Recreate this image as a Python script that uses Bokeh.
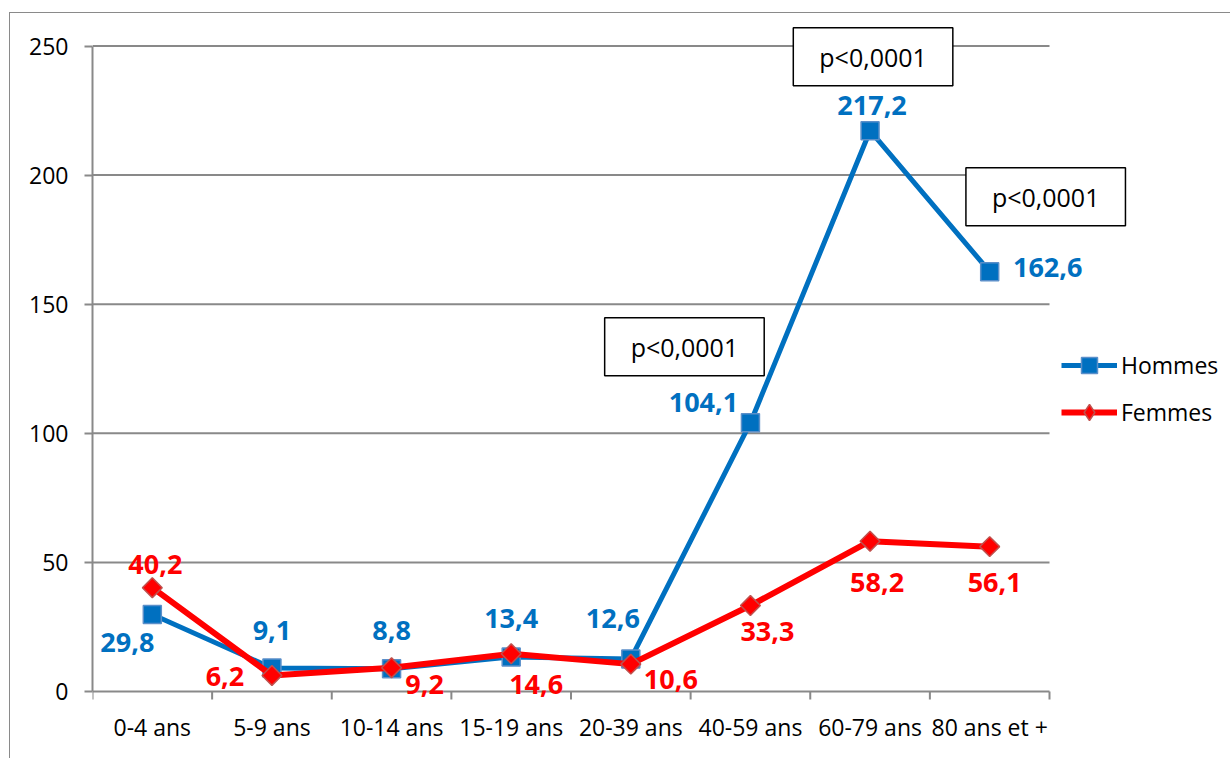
import math
from bokeh.plotting import figure
from bokeh.models import (FixedTicker, Label, Legend, LegendItem,
                          ColumnDataSource, Range1d)
from bokeh.embed import file_html
from bokeh.resources import INLINE
from bokeh.core.properties import value

# ---------------- data ----------------
categories = ["0-4 ans", "5-9 ans", "10-14 ans", "15-19 ans",
              "20-39 ans", "40-59 ans", "60-79 ans", "80 ans et +"]
hommes = [29.8, 9.1, 8.8, 13.4, 12.6, 104.1, 217.2, 162.6]
femmes = [40.2, 6.2, 9.2, 14.6, 10.6, 33.3, 58.2, 56.1]
y_ticks = [0, 50, 100, 150, 200, 250]
y_max = 250
pvalue_text = "p<0,0001"
pvalue_groups = [5, 6, 7]          # Hommes points that carry a p-value box

# ---------------- label placement (screen px) ----------------
hommes_dx = [-25, 0, 0, 0, -18, -47, 2, 58]
hommes_dy = [28, -38, -38, -38, -40, -20, -25, -4]      # +down
femmes_dx = [3, -47, 33, 25, 40, 17, 7, 5]
femmes_dy = [-23, 1, 17, 31, 15, 26, 41, 36]            # +down
pbox_dx = [-66, 3, 56]
pbox_dy = [76, 74, 75]                                  # +up

FONT = "Open Sans"
GRID = "#898989"
BLUE = "#0070C0"
RED = "#FF0000"

# layout (pixels)
FIG_W, FIG_H = 1221, 746
B_LEFT, B_RIGHT, B_TOP, B_BOTTOM = 82, 5, 3, 58
PLOT_W = 957      # width used by the 8 categories
PLOT_H = 645.5    # height used by 0..250
ZERO_PAD = 10     # frame pixels kept below the zero line (so labels are not clipped)
TICK_LEN = 8


def fmt(v):
    return f"{v:.1f}".replace(".", ",")


n = len(categories)
xs = [i + 0.5 for i in range(n)]
frame_w = FIG_W - B_LEFT - B_RIGHT
frame_h = FIG_H - B_TOP - B_BOTTOM
x_end = n * frame_w / PLOT_W
px_per_unit = PLOT_H / y_max
y_start = -ZERO_PAD / px_per_unit
y_end = (frame_h - ZERO_PAD) / px_per_unit

src_h = ColumnDataSource(dict(x=xs, y=hommes, t=[fmt(v) for v in hommes],
                              dx=hommes_dx, dy=hommes_dy))
src_f = ColumnDataSource(dict(x=xs, y=femmes, t=[fmt(v) for v in femmes],
                              dx=femmes_dx, dy=femmes_dy))

p = figure(width=FIG_W, height=FIG_H, output_backend="svg", toolbar_location=None,
           x_range=Range1d(0, x_end), y_range=Range1d(y_start, y_end),
           min_border_left=B_LEFT, min_border_top=B_TOP, min_border_right=B_RIGHT,
           min_border_bottom=B_BOTTOM)
p.outline_line_color = None
p.background_fill_color = "white"
p.border_fill_color = "white"
p.styles = {"margin-left": "9px", "margin-top": "12px",
            "border-left": "1px solid #8a8a8a", "border-top": "1px solid #8a8a8a"}

# x axis: only the category labels (line and ticks are drawn at y = 0 below)
p.xaxis.ticker = FixedTicker(ticks=xs)
p.xaxis.major_label_overrides = {x: c for x, c in zip(xs, categories)}
p.xaxis.major_tick_line_color = None
p.xaxis.major_tick_in = 0
p.xaxis.major_tick_out = 0
p.xaxis.minor_tick_line_color = None
p.xaxis.minor_tick_in = 0
p.xaxis.minor_tick_out = 0
p.xaxis.axis_line_color = None
p.xaxis.major_label_text_font = FONT
p.xaxis.major_label_text_font_size = "23px"
p.xaxis.major_label_text_color = "black"
p.xaxis.major_label_standoff = 9

p.yaxis.ticker = FixedTicker(ticks=y_ticks)
p.yaxis.bounds = (0, y_max)
p.yaxis.minor_tick_line_color = None
p.yaxis.major_tick_line_color = GRID
p.yaxis.major_tick_line_width = 2
p.yaxis.major_tick_in = 0
p.yaxis.major_tick_out = TICK_LEN
p.yaxis.axis_line_color = GRID
p.yaxis.axis_line_width = 2
p.yaxis.major_label_text_font = FONT
p.yaxis.major_label_text_font_size = "23px"
p.yaxis.major_label_text_color = "black"
p.yaxis.major_label_standoff = 16

p.xgrid.grid_line_color = None
p.ygrid.grid_line_color = None
# horizontal gridlines (incl. the zero / category axis line) over the category span
p.segment(x0=[0] * len(y_ticks), x1=[n] * len(y_ticks), y0=y_ticks, y1=y_ticks,
          line_color=GRID, line_width=2)
# category boundary ticks hanging below the zero line
bounds = list(range(n + 1))
p.segment(x0=bounds, x1=bounds, y0=[0] * len(bounds),
          y1=[-TICK_LEN / px_per_unit] * len(bounds), line_color=GRID, line_width=2)

# series
lh = p.line("x", "y", source=src_h, line_color=BLUE, line_width=5)
mh = p.scatter("x", "y", source=src_h, marker="square", size=18,
               fill_color=BLUE, line_color="#5B8FC9", line_width=1.5)
lf = p.line("x", "y", source=src_f, line_color=RED, line_width=6)
mf = p.scatter("x", "y", source=src_f, marker="square", size=14, angle=math.pi / 4,
               fill_color=RED, line_color="#C0504D", line_width=1.5)
# legend-only diamond (nothing visible in the plot)
mf_leg = p.scatter(x=[xs[0]], y=[float("nan")], marker="diamond", size=14,
                   fill_color=RED, line_color="#C0504D", line_width=1.5)

p.text("x", "y", text="t", source=src_h, x_offset="dx", y_offset="dy",
       text_align="center", text_baseline="middle", text_color=BLUE,
       text_font=value(FONT), text_font_style="bold", text_font_size="27px")
p.text("x", "y", text="t", source=src_f, x_offset="dx", y_offset="dy",
       text_align="center", text_baseline="middle", text_color=RED,
       text_font=value(FONT), text_font_style="bold", text_font_size="27px")

for g, dx, dy in zip(pvalue_groups, pbox_dx, pbox_dy):
    p.add_layout(Label(x=xs[g], y=hommes[g], x_offset=dx, y_offset=dy,
                       text=pvalue_text, text_align="center", text_baseline="middle",
                       text_font=FONT, text_font_size="25px", text_color="black",
                       border_line_color="black", border_line_width=1.5,
                       background_fill_color="white", padding=(26, 12)))

legend = Legend(items=[LegendItem(label="Hommes", renderers=[lh, mh]),
                       LegendItem(label="Femmes", renderers=[lf, mf_leg])],
                location=(969, 259 + ZERO_PAD), orientation="vertical",
                label_text_font=FONT, label_text_font_size="23px",
                label_text_color="black", glyph_width=56, glyph_height=40,
                label_standoff=4, spacing=7, padding=0, margin=0,
                border_line_color=None, background_fill_alpha=0)
p.add_layout(legend, "center")

open("out.html", "w").write(file_html(p, INLINE))
